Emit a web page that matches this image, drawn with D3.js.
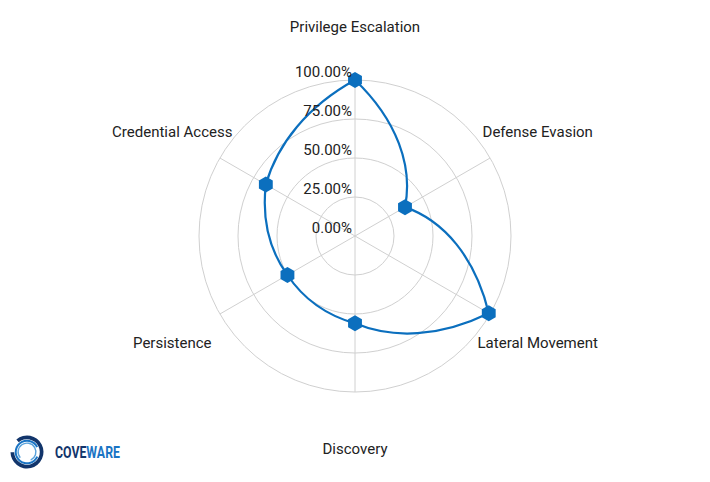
<!DOCTYPE html>
<html>
<head>
<meta charset="utf-8">
<script src="https://cdn.jsdelivr.net/npm/d3@7"></script>
<style>
  body { margin: 0; background: #fff; }
  text { font-family: Roboto, "Noto Sans", sans-serif; }
</style>
</head>
<body>
<div id="radar"></div>
<script>
// tactics and share of cases
const tactics = ["Privilege Escalation", "Defense Evasion", "Lateral Movement", "Discovery", "Persistence", "Credential Access"];
const shares = [100, 37, 99, 56, 50, 66];
const ringTicks = [0, 25, 50, 75, 100];

const width = 710, height = 482;
const cx = 355, cy = 236, radius = 156;
const blue = "#0b6fbe";

const svg = d3.select("#radar").append("svg")
  .attr("width", width)
  .attr("height", height);

const g = svg.append("g").attr("transform", "translate(" + cx + "," + cy + ")");

const r = d3.scaleLinear().domain([0, 100]).range([0, radius]);
const angle = d3.scalePoint().domain(tactics).range([0, 2 * Math.PI * (tactics.length - 1) / tactics.length]);
const step = 2 * Math.PI / tactics.length;

// polar -> screen
function xy(a, rad) { return [rad * Math.sin(a), -rad * Math.cos(a)]; }

// grid rings
g.selectAll(".ring")
  .data(ringTicks.filter(d => d > 0))
  .enter().append("circle")
  .attr("r", d => r(d))
  .attr("fill", "none")
  .attr("stroke", "#d0d0d0")
  .attr("stroke-width", 1);

// spokes
g.selectAll(".spoke")
  .data(tactics)
  .enter().append("line")
  .attr("x1", 0).attr("y1", 0)
  .attr("x2", d => xy(angle(d), r(100))[0])
  .attr("y2", d => xy(angle(d), r(100))[1])
  .attr("stroke", "#d0d0d0")
  .attr("stroke-width", 1);

// axis labels
g.selectAll(".label")
  .data(tactics)
  .enter().append("text")
  .attr("x", d => xy(angle(d), 211)[0])
  .attr("y", d => xy(angle(d), 211)[1] + 1.5)
  .attr("dy", "0.35em")
  .attr("text-anchor", "middle")
  .attr("font-size", 15)
  .attr("fill", "#222")
  .text(d => d);

// the series: each segment bends like the polar grid
// (control points laid out in angle/value space, then projected)
const path = d3.path();
tactics.forEach((t, i) => {
  const a0 = angle(t), v0 = shares[i];
  const v1 = shares[(i + 1) % tactics.length];
  const a1 = a0 + step;
  if (i === 0) path.moveTo(...xy(a0, r(v0)));
  const c1 = xy(a0 + (a1 - a0) / 3, r(v0 + (v1 - v0) / 3));
  const c2 = xy(a0 + 2 * (a1 - a0) / 3, r(v0 + 2 * (v1 - v0) / 3));
  const p1 = xy(a1, r(v1));
  path.bezierCurveTo(c1[0], c1[1], c2[0], c2[1], p1[0], p1[1]);
});
path.closePath();
g.append("path")
  .attr("d", path.toString())
  .attr("fill", "none")
  .attr("stroke", blue)
  .attr("stroke-width", 2.2)
  .attr("stroke-linejoin", "round");

// hexagon markers
const hex = d3.range(6).map(k => xy(k * Math.PI / 3, 8));
g.selectAll(".marker")
  .data(tactics)
  .enter().append("path")
  .attr("transform", (d, i) => "translate(" + xy(angle(d), r(shares[i])).join(",") + ")")
  .attr("d", "M" + hex.join("L") + "Z")
  .attr("fill", blue);

// ring tick labels
g.selectAll(".tick")
  .data(ringTicks)
  .enter().append("text")
  .attr("x", -3)
  .attr("y", d => -r(d) - 8)
  .attr("dy", "0.35em")
  .attr("text-anchor", "end")
  .attr("font-size", 15)
  .attr("fill", "#222")
  .text(d => d.toFixed(2) + "%");

// logo
const logo = svg.append("g").attr("transform", "translate(27,452)");
const arc = d3.arc();
logo.append("path")
  .attr("d", arc({innerRadius: 12.8, outerRadius: 16.5, startAngle: -0.7, endAngle: 4.7}))
  .attr("fill", "#12356b");
logo.append("path")
  .attr("d", arc({innerRadius: 10.3, outerRadius: 12.3, startAngle: 2.0, endAngle: 7.4}))
  .attr("fill", "#1a74c4");
logo.append("path")
  .attr("d", arc({innerRadius: 8.2, outerRadius: 9.6, startAngle: 4.0, endAngle: 9.0}))
  .attr("fill", "#5aa3dc");

// wordmark, squeezed horizontally to the logo's width
const wm = svg.append("g");
const word = wm.append("text")
  .attr("font-family", "'DejaVu Sans Condensed', 'Liberation Sans Narrow', sans-serif")
  .attr("font-weight", "bold")
  .attr("font-size", 16.5);
word.append("tspan").attr("fill", "#12356b").text("COVE");
word.append("tspan").attr("fill", "#1a74c4").text("WARE");
const natural = word.node().getComputedTextLength() || 90;
wm.attr("transform", "translate(55,457.5) scale(" + (65 / natural) + ",1)");
</script>
</body>
</html>
